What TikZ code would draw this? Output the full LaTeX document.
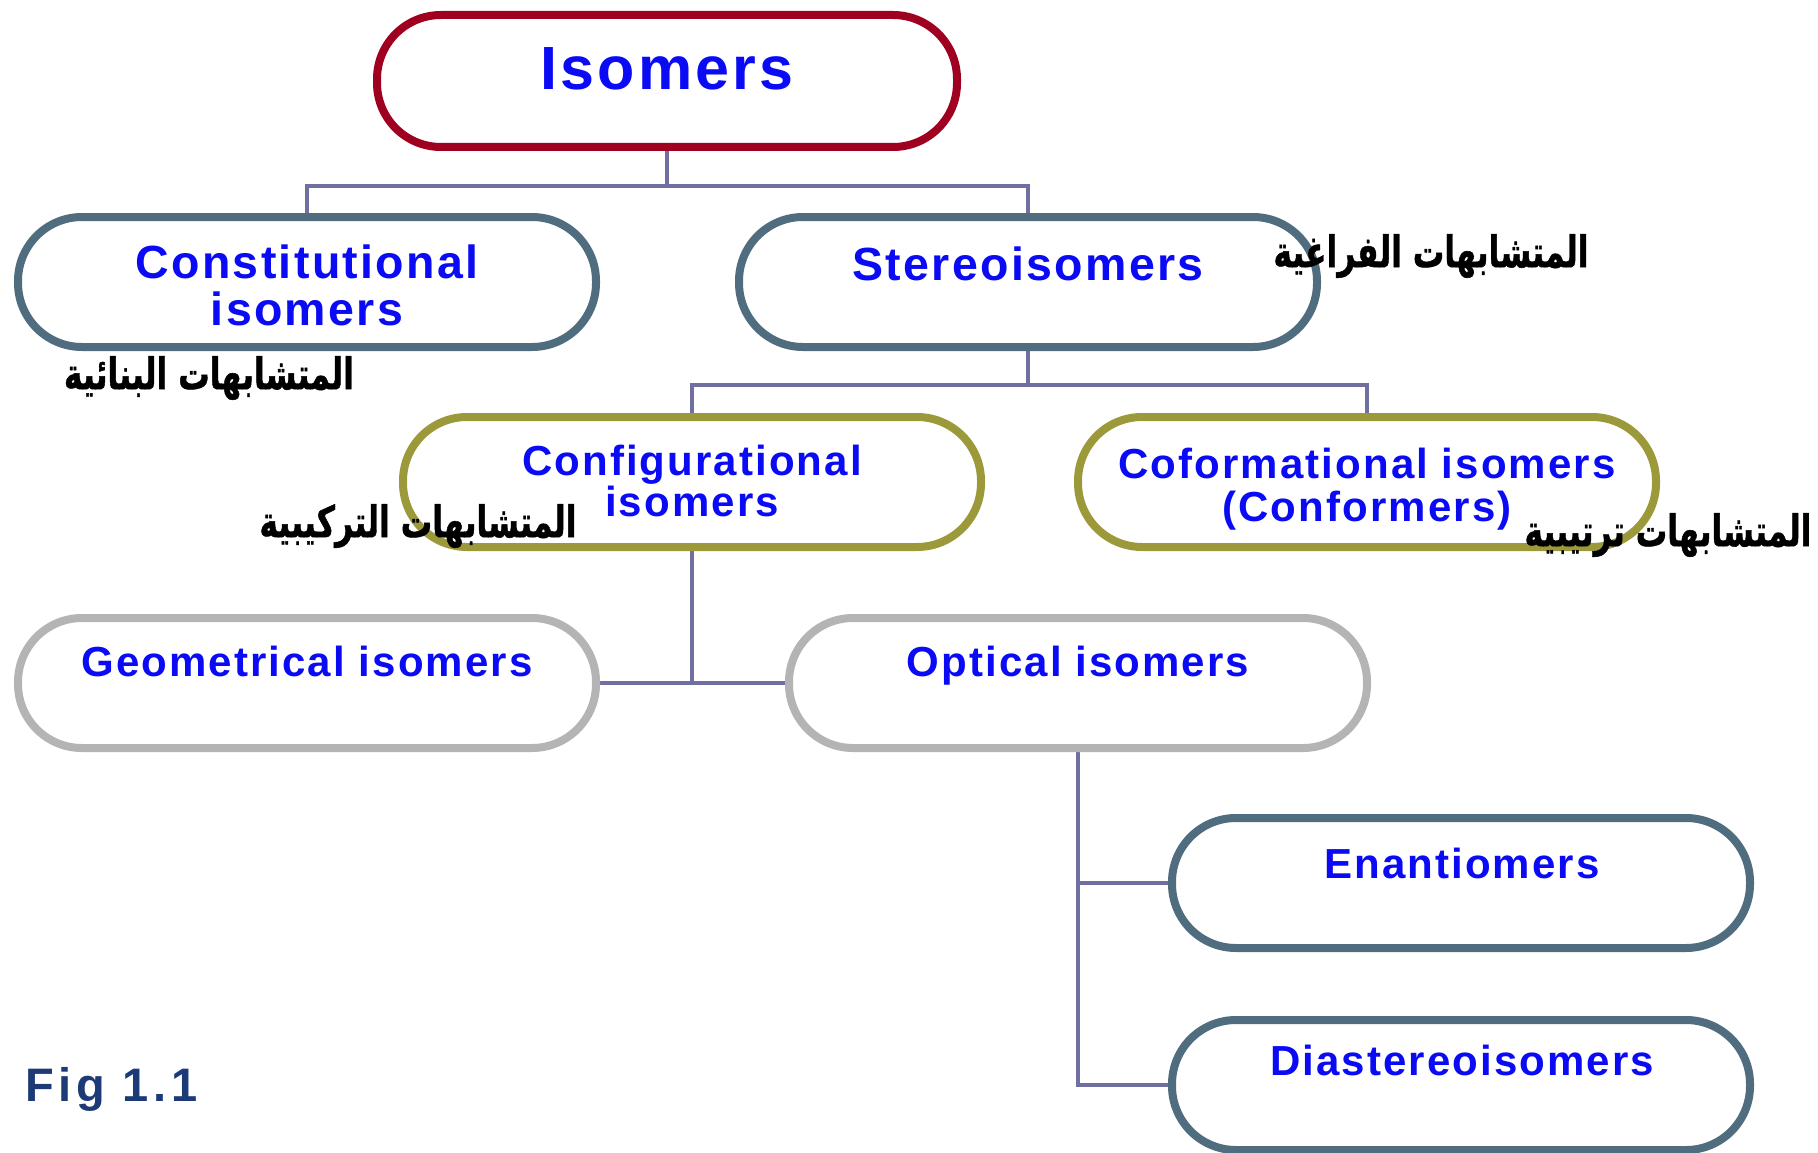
\documentclass[tikz,border=0pt]{standalone}
\usepackage{fontspec}
\usepackage{graphicx}
\setmainfont{Liberation Sans}
\newfontfamily\arabicfont[Script=Arabic, BoldFeatures={FakeBold=1.2}]{DejaVu Sans}
\TeXXeTstate=1
\usetikzlibrary{backgrounds}
\definecolor{redc}{RGB}{160,0,32}
\definecolor{slatec}{RGB}{80,109,127}
\definecolor{olivec}{RGB}{155,153,58}
\definecolor{grayc}{RGB}{180,180,180}
\definecolor{linec}{RGB}{112,112,160}
\definecolor{txtblue}{RGB}{10,10,245}
\definecolor{navyc}{RGB}{28,58,118}
\newcommand{\arabtxt}[1]{\scalebox{0.95}[1.32]{\beginR #1\endR}}
\tikzset{
  pill/.style={draw, line width=8pt, rounded corners=64pt, minimum width=578pt,
    minimum height=130pt, fill=white, inner sep=0pt},
  lbl/.style={font=\bfseries\fontsize{42}{43}\selectfont\addfontfeature{LetterSpace=5},
    text=txtblue, align=center, inner sep=0pt, anchor=base},
  lblbig/.style={lbl, font=\bfseries\fontsize{46.5}{47}\selectfont\addfontfeature{LetterSpace=5}},
  arab/.style={font=\arabicfont\bfseries\fontsize{33}{40}\selectfont, text=black, inner sep=0pt},
  conn/.style={draw=linec, line width=3.5pt}
}
\begin{document}
\begin{tikzpicture}[x=1pt,y=-1pt]
\useasboundingbox (0,0) rectangle (1818,1153);
\clip (0,0) rectangle (1818,1153);
% nodes
\node[pill, draw=redc, minimum width=580pt, minimum height=132pt] (iso) at (667,81) {};
\node[pill, draw=slatec] (con) at (307,282) {};
\node[pill, draw=slatec] (ste) at (1028,282) {};
\node[pill, draw=olivec] (cfg) at (692,482) {};
\node[pill, draw=olivec] (cof) at (1367,482) {};
\node[pill, draw=grayc] (geo) at (307,683) {};
\node[pill, draw=grayc] (opt) at (1078,683) {};
\node[pill, draw=slatec] (ena) at (1461,883) {};
\node[pill, draw=slatec] (dia) at (1461,1085) {};
% connectors
\begin{scope}[on background layer]
\fill[white] (0,0) rectangle (1818,1153);
\draw[conn] (iso.south) -- ++(0,35) -| (con.north);
\draw[conn] (iso.south) -- ++(0,35) -| (ste.north);
\draw[conn] (ste.south) -- ++(0,34) -| (cfg.north);
\draw[conn] (ste.south) -- ++(0,34) -| (cof.north);
\draw[conn] (cfg.south) |- (geo.east);
\draw[conn] (cfg.south) |- (opt.west);
\draw[conn] (opt.south) |- (ena.west);
\draw[conn] (opt.south) |- (dia.west);
\end{scope}
% labels
\node[lbl, font=\bfseries\fontsize{61}{61}\selectfont\addfontfeature{LetterSpace=5}] (tiso) at (667,90) {Isomers};
\node[lblbig] (tcon) at (307,325) {Constitutional\\isomers};
\node[lblbig] (tste) at (1028,280) {Stereoisomers};
\node[lbl] (tcfg) at (692,516) {Configurational\\[-2pt]isomers};
\node[lbl] (tcof) at (1367,521) {Coformational isomers\\(Conformers)};
\node[lbl] (tgeo) at (307,676) {Geometrical isomers};
\node[lbl] (topt) at (1078,676) {Optical isomers};
\node[lbl] (tena) at (1462,878) {Enantiomers};
\node[lbl] (tdia) at (1462,1075) {Diastereoisomers};
\node[lbl, text=navyc, anchor=base west, font=\bfseries\fontsize{47}{47}\selectfont\addfontfeature{LetterSpace=10}] (fig) at (25,1101) {Fig 1.1};
% arabic
\node[arab] (a1) at (1431,256) {\arabtxt{المتشابهات الفراغية}};
\node[arab] (a2) at (209,378) {\arabtxt{المتشابهات البنائية}};
\node[arab] (a3) at (418,526) {\arabtxt{المتشابهات التركيبية}};
\node[arab] (a4) at (1668,535) {\arabtxt{المتشابهات ترتيبية}};
\end{tikzpicture}
\end{document}
